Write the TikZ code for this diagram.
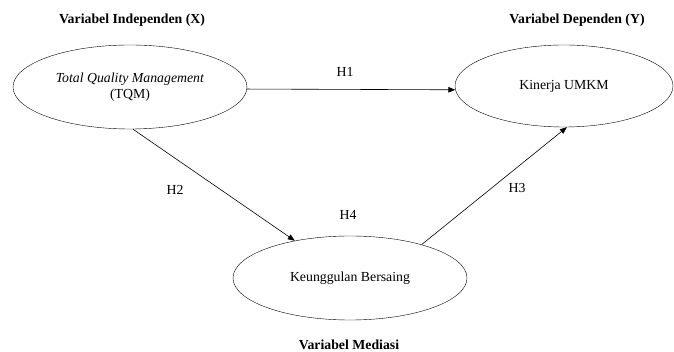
\documentclass[tikz,border=0pt]{standalone}
\usepackage{fontspec}
\setmainfont{Liberation Serif}
\usetikzlibrary{shapes.geometric,arrows.meta}

\begin{document}
\begin{tikzpicture}[x=1pt,y=-1pt,
        var/.style={draw,ellipse,thin,minimum width=234pt,minimum height=84pt,
            inner sep=0pt,align=center,font=\fontsize{13.8}{16}\selectfont},
        head/.style={font=\fontsize{13.8}{16}\selectfont\bfseries},
        hyp/.style={font=\fontsize{13.8}{16}\selectfont},
        path/.style={semithick,-{Triangle[length=7pt,width=5.5pt]}}]
        \useasboundingbox (0,0) rectangle (674,352);
        % variabel
        \node[var] (tqm) at (130,87) {\textit{Total Quality Management}\\(TQM)};
        \node[var,minimum width=218pt,minimum height=82pt] (kin) at (564,86) {Kinerja UMKM};
        \node[var] (keu) at (350,278) {Keunggulan Bersaing};
        % judul
        \node[head] (hx) at (132,20) {Variabel Independen (X)};
        \node[head] (hy) at (577,20) {Variabel Dependen (Y)};
        \node[head] (hm) at (349,345) {Variabel Mediasi};
        % hipotesis
        \draw[path] (tqm.-1) -- (kin.-178);
        \draw[path] (tqm.-86) -- (keu.146);
        \draw[path] (keu.25) -- (kin.-86);
        \node[hyp] (h1) at (345,72) {H1};
        \node[hyp] (h2) at (175,190) {H2};
        \node[hyp] (h3) at (517,188) {H3};
        \node[hyp] (h4) at (348,215) {H4};
    \end{tikzpicture}
\end{document}
